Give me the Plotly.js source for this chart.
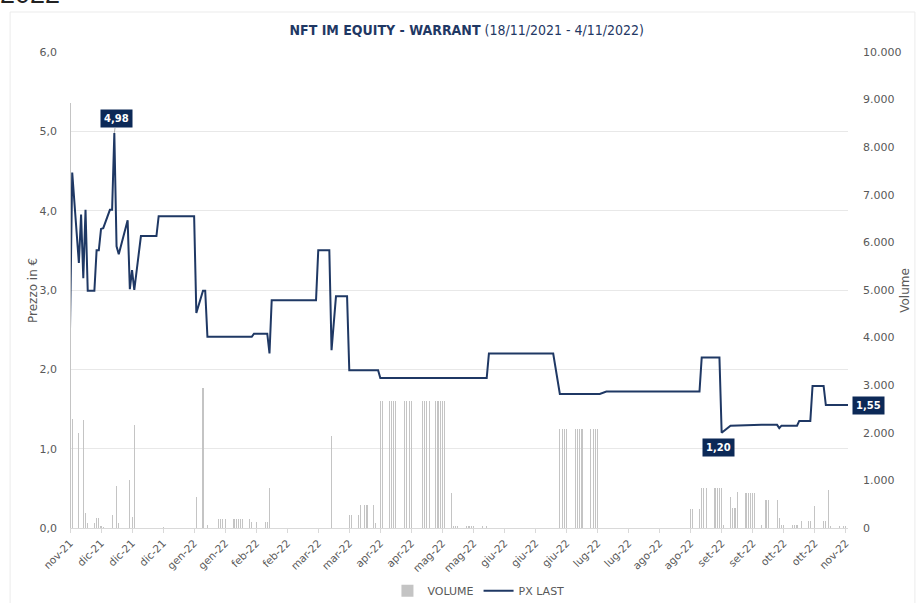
<!DOCTYPE html>
<html>
<head>
<meta charset="utf-8">
<script src="https://cdn.plot.ly/plotly-3.0.1.min.js"></script>
<style>html,body{margin:0;padding:0;background:#fff;}#chart{width:919px;height:603px;}</style>
</head>
<body>
<div id="chart"></div>
<script>
// ---- Price (PX LAST) ----
const priceDates = [
 '2021-11-18','2021-11-19','2021-11-22','2021-11-23','2021-11-24','2021-11-25','2021-11-26','2021-11-29','2021-11-30','2021-12-01',
 '2021-12-02','2021-12-03','2021-12-06','2021-12-07','2021-12-08','2021-12-09','2021-12-10','2021-12-14','2021-12-15','2021-12-16',
 '2021-12-17','2021-12-20','2021-12-27','2021-12-28','2022-01-13','2022-01-14','2022-01-17','2022-01-18','2022-01-19','2022-02-08',
 '2022-02-09','2022-02-15','2022-02-16','2022-02-17','2022-03-09','2022-03-10','2022-03-15','2022-03-16','2022-03-18','2022-03-23',
 '2022-03-24','2022-04-06','2022-04-07','2022-05-25','2022-05-26','2022-06-24','2022-06-27','2022-07-15','2022-07-18','2022-08-29',
 '2022-08-30','2022-09-07','2022-09-08','2022-09-12','2022-09-26','2022-10-03','2022-10-04','2022-10-05','2022-10-12','2022-10-13',
 '2022-10-18','2022-10-19','2022-10-24','2022-10-25','2022-11-04'
];
const priceValues = [
 2.50,4.48,3.34,3.95,3.15,4.01,2.99,2.99,3.50,3.50,
 3.77,3.78,4.01,4.01,4.98,3.55,3.45,3.88,3.01,3.25,
 3.00,3.68,3.68,3.93,3.93,2.71,2.99,2.99,2.41,2.41,
 2.45,2.45,2.20,2.87,2.87,3.50,3.50,2.24,2.92,2.92,
 1.99,1.99,1.89,1.89,2.20,2.20,1.69,1.69,1.72,1.72,
 2.15,2.15,1.20,1.29,1.30,1.30,1.26,1.29,1.29,1.35,
 1.35,1.79,1.79,1.55,1.55
];

// ---- Volume ----
const volumeDates = [
 '2021-11-18','2021-11-19','2021-11-22','2021-11-24','2021-11-25','2021-11-26','2021-11-29','2021-11-30','2021-12-01','2021-12-02',
 '2021-12-03','2021-12-07','2021-12-09','2021-12-10','2021-12-15','2021-12-16','2021-12-17','2021-12-30','2022-01-14','2022-01-17',
 '2022-01-19','2022-01-24','2022-01-25','2022-01-26','2022-01-27','2022-01-31','2022-02-01','2022-02-02','2022-02-03','2022-02-04',
 '2022-02-07','2022-02-08','2022-02-10','2022-02-14','2022-02-15','2022-02-16','2022-03-16','2022-03-24','2022-03-25','2022-03-28',
 '2022-03-29','2022-03-31','2022-04-01','2022-04-04','2022-04-05','2022-04-07','2022-04-08','2022-04-11','2022-04-12','2022-04-13',
 '2022-04-14','2022-04-18','2022-04-19','2022-04-20','2022-04-21','2022-04-26','2022-04-27','2022-04-28','2022-04-29','2022-05-02',
 '2022-05-03','2022-05-04','2022-05-05','2022-05-06','2022-05-09','2022-05-10','2022-05-11','2022-05-12','2022-05-16','2022-05-17',
 '2022-05-18','2022-05-19','2022-05-23','2022-05-25','2022-06-27','2022-06-28','2022-06-29','2022-06-30','2022-07-04','2022-07-05',
 '2022-07-06','2022-07-07','2022-07-11','2022-07-12','2022-07-13','2022-07-14','2022-08-25','2022-08-26','2022-08-29','2022-08-30',
 '2022-08-31','2022-09-01','2022-09-05','2022-09-06','2022-09-07','2022-09-08','2022-09-09','2022-09-12','2022-09-13','2022-09-14',
 '2022-09-15','2022-09-19','2022-09-20','2022-09-21','2022-09-22','2022-09-23','2022-09-26','2022-09-28','2022-09-29','2022-10-03',
 '2022-10-04','2022-10-05','2022-10-06','2022-10-10','2022-10-11','2022-10-12','2022-10-14','2022-10-17','2022-10-18','2022-10-20',
 '2022-10-24','2022-10-25','2022-10-26','2022-10-27','2022-10-31','2022-11-02','2022-11-03'
];
const volumeValues = [
 8930,2300,1990,2270,310,100,100,200,200,50,
 30,280,880,100,1010,240,2160,20,660,2950,
 60,190,190,190,190,190,190,190,190,190,
 190,130,130,130,130,850,1930,270,270,270,
 480,480,480,480,100,2660,2660,2660,2660,2660,
 2660,2660,2660,2660,2660,2660,2660,2660,2660,2660,
 2660,2660,2660,2660,740,50,50,50,50,50,
 50,50,50,50,2080,2080,2080,2080,2080,2080,
 2080,2080,2080,2080,2080,2080,400,400,400,830,
 830,830,830,830,830,830,70,660,410,410,
 750,740,740,740,740,740,60,590,590,590,
 200,70,70,70,70,70,140,140,140,470,
 140,140,800,50,40,40,40
];

// ---- Axis ticks ----
const tickDates = [
 '2021-11-18','2021-12-02','2021-12-16','2021-12-30','2022-01-13','2022-01-27','2022-02-10','2022-02-24','2022-03-10','2022-03-24',
 '2022-04-07','2022-04-21','2022-05-05','2022-05-19','2022-06-02','2022-06-16','2022-06-30','2022-07-14','2022-07-28','2022-08-11',
 '2022-08-25','2022-09-08','2022-09-22','2022-10-06','2022-10-20','2022-11-03'
];
const tickLabels = [
 'nov-21','dic-21','dic-21','dic-21','gen-22','gen-22','feb-22','feb-22','mar-22','mar-22',
 'apr-22','apr-22','mag-22','mag-22','giu-22','giu-22','giu-22','lug-22','lug-22','ago-22',
 'ago-22','set-22','set-22','ott-22','ott-22','nov-22'
];

const navy = '#1f3864';
const labelBg = '#0c2957';
const grey = '#595959';
const fontFam = 'DejaVu Sans, Verdana, sans-serif';
const DAY = 86400000;

const fmt = v => v.toFixed(2).replace('.', ',');
let iMax = 0, iMin = 0;
priceValues.forEach((v, i) => { if (v > priceValues[iMax]) iMax = i; if (v < priceValues[iMin]) iMin = i; });
const iLast = priceValues.length - 1;

const traces = [
  {
    type: 'bar', name: 'VOLUME', x: volumeDates, y: volumeValues, yaxis: 'y2',
    width: DAY * 0.5,
    marker: { color: '#c4c4c4', line: { width: 0 } },
    hoverinfo: 'x+y'
  },
  {
    type: 'scatter', mode: 'lines', name: 'PX LAST', x: priceDates, y: priceValues, yaxis: 'y',
    line: { color: navy, width: 2 }
  }
];

function lbl(i, ax, ay, arrow) {
  return {
    xref: 'x', yref: 'y', x: priceDates[i], y: priceValues[i],
    text: '<b>' + fmt(priceValues[i]) + '</b>',
    showarrow: true, arrowhead: 0, arrowwidth: 0.8,
    arrowcolor: arrow ? '#9a9a9a' : 'rgba(0,0,0,0)',
    ax: ax, ay: ay,
    bgcolor: labelBg, borderpad: 3,
    font: { family: fontFam, size: 10, color: '#ffffff' }
  };
}

const layout = {
  width: 919, height: 603,
  margin: { l: 70, r: 71, t: 52, b: 75, autoexpand: false },
  paper_bgcolor: '#ffffff', plot_bgcolor: '#ffffff',
  separators: ',.',
  showlegend: true,
  bargap: 0,
  title: {
    text: '<b>NFT IM EQUITY - WARRANT</b> (18/11/2021 - 4/11/2022)',
    font: { family: 'Liberation Sans Narrow, DejaVu Sans Condensed, Arial Narrow, sans-serif', size: 14, color: navy },
    x: 0.51, xref: 'paper', xanchor: 'center', y: 0.95, yanchor: 'middle'
  },
  xaxis: {
    type: 'date', range: ['2021-11-18', '2022-11-04'], automargin: false,
    tickmode: 'array', tickvals: tickDates, ticktext: tickLabels,
    tickangle: -45, tickfont: { family: fontFam, size: 10.5, color: grey },
    showgrid: false, zeroline: false,
    showline: true, linecolor: '#d9d9d9', linewidth: 1,
    ticks: 'outside', ticklen: 4, tickcolor: '#d9d9d9'
  },
  yaxis: {
    range: [0, 6], dtick: 1, tickformat: '.1f', automargin: false,
    tickfont: { family: fontFam, size: 11, color: grey },
    gridcolor: '#e8e8e8', gridwidth: 1, zeroline: false, showline: false,
    ticks: '', ticklabelstandoff: 12
  },
  yaxis2: {
    overlaying: 'y', side: 'right', range: [0, 10000], dtick: 1000, tickformat: ',d', automargin: false,
    tickfont: { family: fontFam, size: 11, color: grey },
    showgrid: false, zeroline: false, showline: false, ticks: '', ticklabelstandoff: 14
  },
  legend: {
    orientation: 'h', x: 0.525, xanchor: 'center', y: -0.132, yanchor: 'middle',
    font: { family: fontFam, size: 11, color: grey }, traceorder: 'normal'
  },
  shapes: [
    { type: 'rect', xref: 'paper', yref: 'paper', x0: -0.077, x1: 1.086, y0: -0.2, y1: 1.084,
      line: { color: '#ebebeb', width: 1 }, fillcolor: 'rgba(0,0,0,0)', layer: 'below' }
  ],
  annotations: [
    lbl(iMax, 2, -14, true),
    lbl(iMin, -3, 15, false),
    lbl(iLast, 20, 0, false),
    { xref: 'paper', yref: 'paper', x: -0.0476, y: 0.5, xanchor: 'center', yanchor: 'middle', textangle: -90,
      text: 'Prezzo in €', showarrow: false, font: { family: fontFam, size: 12, color: grey } },
    { xref: 'paper', yref: 'paper', x: 1.073, y: 0.5, xanchor: 'center', yanchor: 'middle', textangle: -90,
      text: 'Volume', showarrow: false, font: { family: fontFam, size: 12, color: grey } },
    { xref: 'paper', yref: 'paper', x: -0.093, xanchor: 'left', y: 1.087, yanchor: 'bottom',
      text: '2022', showarrow: false, font: { family: 'Liberation Sans, Arial, sans-serif', size: 27, color: '#222222' } }
  ]
};

Plotly.newPlot('chart', traces, layout, { displayModeBar: false, staticPlot: true });
</script>
</body>
</html>
